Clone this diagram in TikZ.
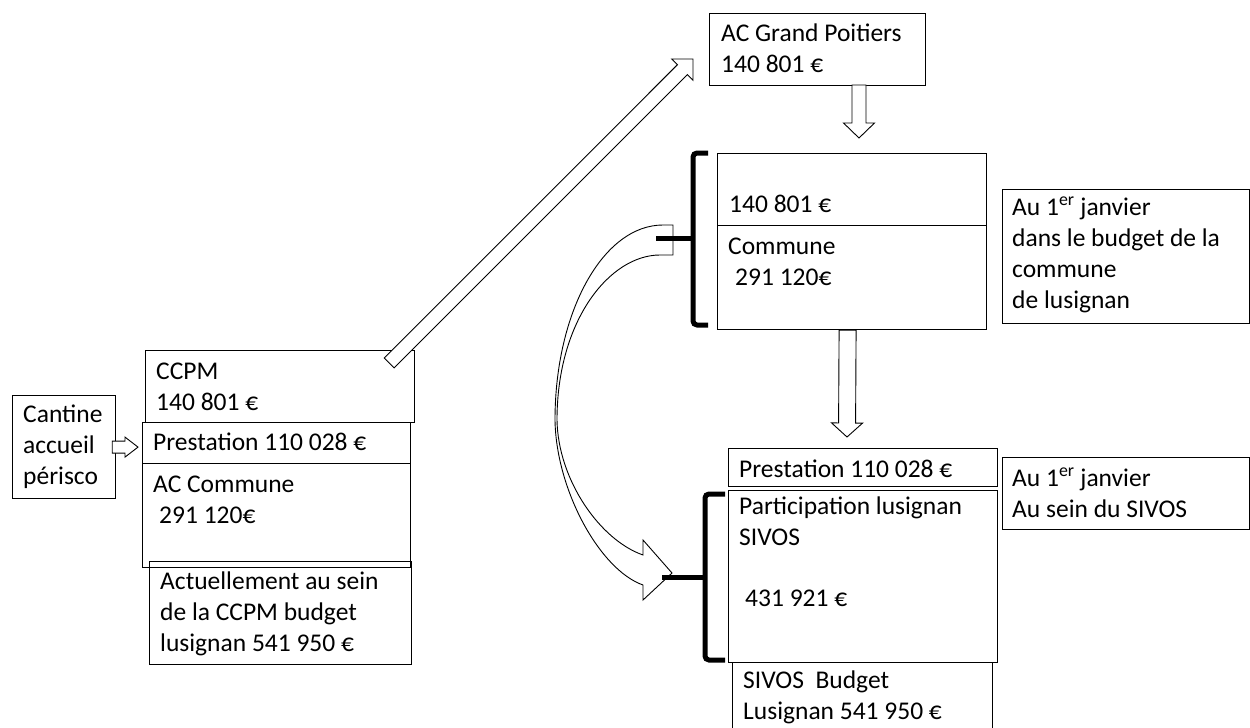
\documentclass[tikz,border=0pt]{standalone}
\usepackage{fontspec}
\setmainfont{Carlito}
\usetikzlibrary{calc, positioning}

% hollow block arrow: tail, tip, half shaft, half head, head length
\newcommand{\hollowarrow}[5]{%
    \coordinate (hbase) at ($(#2)!#5!(#1)$);
    \draw[hollow] ($(#1)!#3!90:(#2)$) -- ($(hbase)!#3!90:(#2)$) -- ($(hbase)!#4!90:(#2)$)
        -- (#2) -- ($(hbase)!#4!-90:(#2)$) -- ($(hbase)!#3!-90:(#2)$) -- ($(#1)!#3!-90:(#2)$) -- cycle;
}

\begin{document}
\begin{tikzpicture}[x=1pt, y=-1pt,
        % Style definitions
        box/.style={
            draw=black,
            line width=1.2pt,
            inner sep=0pt,
            anchor=north west
        },
        % texts are placed at the baseline of their last line
        txt/.style={
            anchor=base west,
            align=left,
            inner sep=0pt,
            font=\fontsize{25.5}{31}\selectfont
        },
        hollow/.style={
            draw=black,
            line width=0.9pt,
            fill=white,
            line join=miter
        },
        brace/.style={
            draw=black,
            line width=5pt,
            rounded corners=4pt
        }
    ]
    \useasboundingbox (0,0) rectangle (1250,728);

        % ==========================================
        % Boxes
        % ==========================================
        % Left side (CCPM)
        \node (cantine) [box, minimum width=103pt, minimum height=103pt] at (12,395) {};
        \node (ccpm) [box, minimum width=269pt, minimum height=72pt] at (145,350) {};
        \node (prest1) [box, minimum width=268pt, minimum height=41pt] at (142,422) {};
        \node (accom) [box, minimum width=268pt, minimum height=104pt] at (142,463) {};
        \node (actuel) [box, line width=1pt, minimum width=262pt, minimum height=103pt] at (149,561) {};

        % Top right (Grand Poitiers and commune)
        \node (acgp) [box, minimum width=216pt, minimum height=72pt] at (709,13) {};
        \node (midtop) [box, minimum width=269pt, minimum height=72pt] at (717,153) {};
        \node (midbot) [box, minimum width=269pt, minimum height=104pt] at (717,225) {};
        \node (note1) [box, line width=1pt, minimum width=247pt, minimum height=134pt] at (1002,189) {};

        % Bottom right (SIVOS)
        \node (prest2) [box, minimum width=269pt, minimum height=38pt] at (728,448) {};
        \node (partic) [box, minimum width=269pt, minimum height=172pt] at (728,490) {};
        \node (sivos) [box, line width=1pt, minimum width=260pt, minimum height=80pt] at (732,662) {};
        \node (note2) [box, line width=1pt, minimum width=247pt, minimum height=72pt] at (1002,457) {};

        % ==========================================
        % Texts
        % ==========================================
        \node (cantinetxt) [txt] at (23,484) {Cantine\\accueil\\périsco};
        \node (ccpmtxt) [txt] at (156,410) {CCPM\\140 801 €};
        \node (prest1txt) [txt] at (153,450) {Prestation 110 028 €};
        \node (accomtxt) [txt] at (153,523) {AC Commune\\\hspace{6pt}291 120€};
        \node (actueltxt) [txt] at (160,651) {Actuellement au sein\\de la CCPM budget\\lusignan 541 950 €};

        \node (acgptxt) [txt] at (721,72) {AC Grand Poitiers\\140 801 €};
        \node (midtoptxt) [txt] at (729,212) {140 801 €};
        \node (midbottxt) [txt] at (728,285) {Commune\\\hspace{7pt}291 120€};
        \node (note1txt) [txt] at (1012,308) {Au 1\textsuperscript{er} janvier\\dans le budget de la\\commune\\de lusignan};

        \node (prest2txt) [txt] at (739,477) {Prestation 110 028 €};
        \node (partictxt) [txt] at (739,545) {Participation lusignan\\SIVOS};
        \node (partictot) [txt] at (745,606) {431 921 €};
        \node (sivostxt) [txt] at (743,719) {SIVOS\ \ Budget\\Lusignan 541 950 €};
        \node (note2txt) [txt] at (1012,517) {Au 1\textsuperscript{er} janvier\\Au sein du SIVOS};

        % ==========================================
        % Block arrows
        % ==========================================
        \coordinate (cantout) at ($(cantine.east)+(-4,0)$);
        \coordinate (prestin) at ($(prest1.west)+(-4,4)$);
        \hollowarrow{cantout}{prestin}{6pt}{10pt}{13pt}

        \coordinate (ccpmout) at ($(ccpm.north east)+(-26,13)$);
        \coordinate (acgpin) at ($(acgp.north west)+(-16,46)$);
        \hollowarrow{ccpmout}{acgpin}{7pt}{15pt}{15pt}

        \coordinate (acgpout) at (859,85);
        \coordinate (midin) at (859,138);
        \hollowarrow{acgpout}{midin}{7pt}{15.5pt}{15pt}

        \coordinate (midout) at ($(midbot.south)+(-4.5,0)$);
        \coordinate (sivosin) at (847,437);
        \hollowarrow{midout}{sivosin}{8.5pt}{15.5pt}{14pt}

        % Curved arrow from the commune brace to the SIVOS brace
        \coordinate (ctail) at (673,240);
        \coordinate (ctip) at (672,573);
        \draw[hollow] ($(ctail)+(0,-15)$) -- ++(-10,0)
            .. controls +(-60,0) and +(0,-108) .. ++(-108,195)
            .. controls +(1,70) and +(-43,-15) .. ++(88,165)
            -- ++(0,15) -- (ctip) -- ++(-29,-33) -- ++(0,15)
            .. controls +(-43,-15) and +(1,60) .. ++(-86,-135)
            .. controls +(0,-100) and +(-50,0) .. ++(103,-165)
            -- ++(13,0) -- cycle;

        % ==========================================
        % Braces
        % ==========================================
        \draw[brace] ($(midtop.north west)+(-9,0)$) -- ++(-15,0) -- ++(0,172) -- ++(15,0);
        \coordinate (brace1) at (693,238);
        \draw[brace] (brace1) -- ++(-37,0);

        \draw[brace] ($(partic.north west)+(-3,4)$) -- ++(-20,0) -- ++(0,166) -- ++(20,0);
        \coordinate (brace2) at (705,577);
        \draw[brace] (brace2) -- ++(-43,0);

    \end{tikzpicture}
\end{document}
